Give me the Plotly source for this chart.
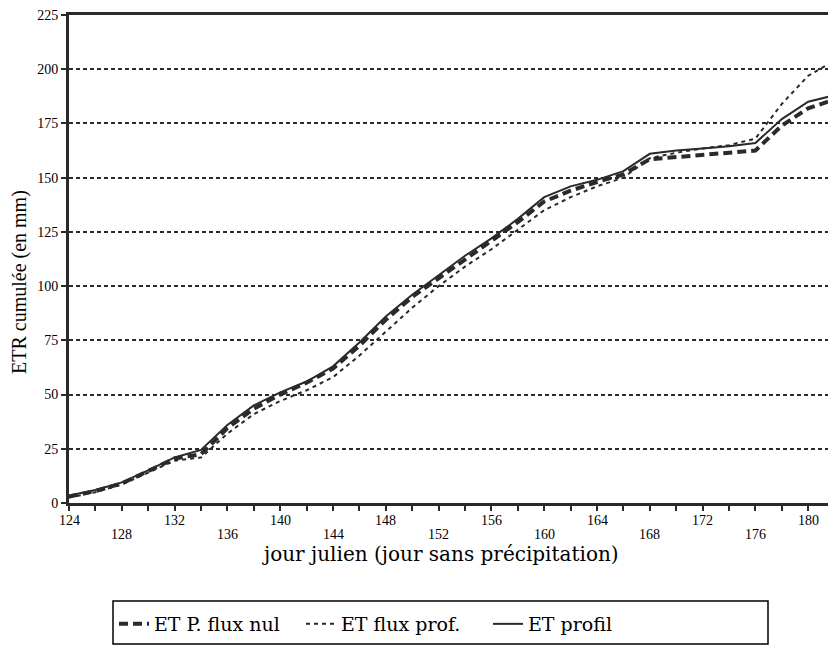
import plotly.graph_objects as go

# jours juliens (tous les 2 jours)
jours = [124, 126, 128, 130, 132, 134, 136, 138, 140, 142, 144, 146, 148, 150, 152,
         154, 156, 158, 160, 162, 164, 166, 168, 170, 172, 174, 176, 178, 180, 182]

# ETR cumulée (mm)
et_flux_nul = [3, 5.5, 9, 14.5, 20.5, 22.5, 34.5, 43.5, 50, 55.5, 62, 72.5, 84.5, 95, 103.5,
               112.5, 121, 129.5, 139, 144, 148, 151.5, 158.5, 159.5, 160.5, 161.5, 162.5, 174, 182, 186]
et_flux_prof = [2.5, 5, 8.5, 14, 19.5, 21, 32, 41, 47, 52, 58, 68, 79, 90, 100,
                109, 117, 126, 135, 141, 146, 150, 159, 161.5, 163.5, 165, 168, 184, 197, 204]
et_profil = [3.5, 6, 9.5, 15, 21, 24.5, 36, 45, 51, 56, 63, 74, 86, 96, 105,
             114, 122, 131, 141, 146, 149, 153, 161, 162.5, 163.5, 164.5, 166, 177, 185, 188]

# graduations de l'axe x : une marque tous les 2 jours, une étiquette tous les 4
x_ticks = list(range(124, 183, 2))
x_labels_haut = [124, 132, 140, 148, 156, 164, 172, 180]
x_labels_bas = [128, 136, 144, 152, 160, 168, 176]
y_ticks = [0, 25, 50, 75, 100, 125, 150, 175, 200, 225]

encre = '#2a2a2a'
police = 'Liberation Serif'
police_large = 'DejaVu Serif'

# la page ajoute 8 px de marge : repères exprimés en pixels de la page
L, B, LARG, HAUT = 69, 503, 759, 488


def px(x):
    return (x - L) / LARG


def py(y):
    return (B - y) / HAUT


fig = go.Figure()
fig.add_trace(go.Scatter(x=jours, y=et_flux_nul, mode='lines', name='ET P. flux nul',
                         line=dict(color=encre, width=4, dash='9px,5px')))
fig.add_trace(go.Scatter(x=jours, y=et_flux_prof, mode='lines', name='ET flux prof.',
                         line=dict(color=encre, width=2, dash='4px,4px')))
fig.add_trace(go.Scatter(x=jours, y=et_profil, mode='lines', name='ET profil',
                         line=dict(color=encre, width=2)))

annotations = []
# étiquettes de l'axe x sur deux rangées alternées
for j in x_labels_haut:
    annotations.append(dict(text=str(j), x=j, xref='x', y=0, yref='paper', yanchor='middle',
                            yshift=-17, showarrow=False, font=dict(size=14, family=police)))
for j in x_labels_bas:
    annotations.append(dict(text=str(j), x=j, xref='x', y=0, yref='paper', yanchor='middle',
                            yshift=-31, showarrow=False, font=dict(size=14, family=police)))
annotations.append(dict(text='jour julien (jour sans précipitation)', xref='paper', yref='paper',
                        x=px(440), y=py(554), xanchor='center', yanchor='middle',
                        showarrow=False, font=dict(size=20, family=police_large)))
annotations.append(dict(text='ETR cumulée (en mm)', xref='paper', yref='paper',
                        x=px(19), y=py(282), xanchor='center', yanchor='middle',
                        showarrow=False, textangle=-90, font=dict(size=20, family=police)))

fig.update_layout(
    width=820, height=644,
    margin=dict(l=61, r=0, t=7, b=149),
    plot_bgcolor='white', paper_bgcolor='white',
    font=dict(family=police, size=14, color='black'),
    showlegend=True,
    legend=dict(orientation='h', x=px(114), y=py(605), xanchor='left', yanchor='top',
                borderwidth=0, bgcolor='rgba(0,0,0,0)',
                font=dict(size=19, family=police_large),
                entrywidth=142, itemwidth=30, tracegroupgap=0),
    xaxis=dict(range=[124, 181.5], tickvals=x_ticks, showticklabels=False,
               ticks='outside', ticklen=5, tickwidth=2, tickcolor=encre,
               showline=True, linewidth=3, linecolor=encre, mirror=True,
               showgrid=False, zeroline=False, automargin=False),
    yaxis=dict(range=[0, 225], tickvals=y_ticks, ticks='outside', ticklen=5,
               tickwidth=2, tickcolor=encre, ticklabeloverflow='allow',
               showline=True, linewidth=3, linecolor=encre,
               showgrid=True, gridcolor=encre, gridwidth=2, griddash='4px,3px',
               zeroline=False, automargin=False),
    annotations=annotations,
    shapes=[dict(type='rect', xref='paper', yref='paper',
                 x0=px(113), x1=px(768), y0=py(601), y1=py(644),
                 line=dict(color='black', width=1.5))],
)

fig.write_html("out.html")
